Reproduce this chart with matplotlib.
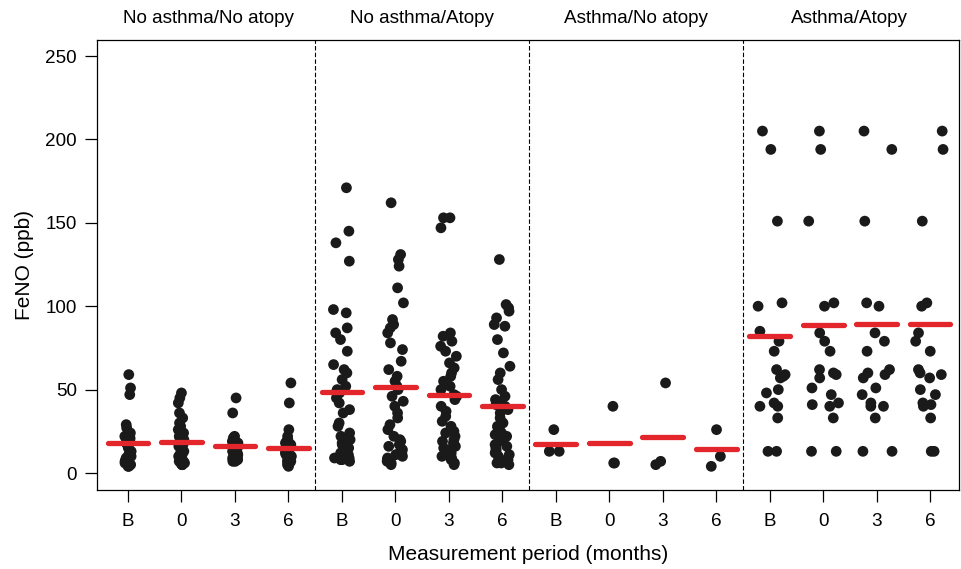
import matplotlib
matplotlib.use("Agg")
import matplotlib.pyplot as plt
import numpy as np

plt.rcParams['font.family'] = ['Liberation Sans', 'DejaVu Sans']

# panel titles and the measurement periods inside each panel
panels = ["No asthma/No atopy", "No asthma/Atopy", "Asthma/No atopy", "Asthma/Atopy"]
periods = ["B", "0", "3", "6"]

# FeNO values (ppb), one list per panel/period
noasthma_noatopy = [
    [59, 51, 47, 29, 27, 24, 22, 21, 20, 19, 19, 18, 18, 17, 16, 15, 13, 12, 11, 10,
     9, 8, 7, 7, 6, 6, 5, 5, 4, 4],
    [48, 45, 42, 36, 33, 30, 28, 26, 24, 22, 21, 20, 19, 19, 18, 17, 16, 15, 14, 13,
     12, 11, 10, 9, 8, 7, 7, 6, 6, 5, 5, 5],
    [45, 36, 22, 21, 20, 19, 18, 17, 16, 16, 15, 14, 13, 12, 11, 10, 10, 9, 8, 8, 7, 7],
    [54, 42, 26, 22, 20, 19, 18, 17, 16, 16, 15, 15, 14, 13, 12, 11, 10, 9, 8, 8,
     7, 7, 6, 6, 5, 4],
]
noasthma_atopy = [
    [171, 145, 138, 127, 98, 96, 87, 84, 80, 73, 65, 62, 60, 56, 52, 50, 49, 48, 45, 42,
     38, 36, 30, 28, 24, 22, 20, 18, 17, 15, 14, 13, 12, 11, 10, 9, 9, 8, 8, 7],
    [162, 131, 128, 124, 111, 102, 92, 89, 87, 84, 78, 74, 67, 62, 58, 55, 52, 50, 46, 43,
     40, 36, 33, 29, 26, 22, 20, 19, 17, 16, 14, 13, 12, 11, 10, 9, 8, 7, 6, 5],
    [153, 153, 147, 84, 82, 79, 76, 73, 70, 66, 63, 60, 58, 55, 52, 50, 47, 46, 44, 40,
     37, 34, 31, 28, 25, 24, 22, 20, 19, 18, 16, 15, 14, 12, 11, 10, 9, 8, 6, 5],
    [128, 101, 99, 97, 93, 89, 88, 80, 72, 64, 60, 56, 50, 46, 44, 42, 41, 40, 38, 36,
     33, 30, 28, 27, 26, 24, 23, 22, 20, 19, 17, 16, 15, 14, 13, 12, 11, 10, 9, 8,
     7, 6, 6, 5],
]
asthma_noatopy = [
    [26, 13, 13],
    [40, 6, 6],
    [54, 7, 5],
    [26, 10, 4],
]
asthma_atopy = [
    [205, 194, 151, 102, 100, 85, 79, 73, 62, 59, 58, 57, 50, 48, 42, 40, 40, 33, 13, 13],
    [205, 194, 151, 102, 100, 84, 79, 73, 62, 60, 59, 57, 51, 47, 42, 41, 40, 33, 13, 13],
    [205, 194, 151, 102, 100, 84, 79, 73, 62, 60, 59, 57, 51, 47, 42, 40, 40, 33, 13, 13],
    [205, 194, 151, 102, 100, 84, 79, 73, 62, 60, 59, 57, 50, 47, 42, 41, 40, 33, 13, 13],
]
groups = noasthma_noatopy + noasthma_atopy + asthma_noatopy + asthma_atopy

# group means (red bars)
group_means = [17.8, 18.6, 16.2, 15.2,
               48.7, 51.7, 46.8, 40.2,
               17.2, 17.8, 21.8, 14.2,
               82.3, 88.7, 89.1, 89.3]

# horizontal spread of the points in each panel
spread = [0.06, 0.16, 0.15, 0.29]

fig = plt.figure(figsize=(9.62, 5.69), dpi=100)
ax = fig.add_axes([0.1008, 0.1388, 0.8961, 0.7909])

rng = np.random.default_rng(7)
for i, vals in enumerate(groups):
    pos = i + 1
    vals = np.array(vals, dtype=float)
    w = spread[i // 4]
    jit = rng.uniform(-w, w, len(vals))
    ax.scatter(pos + jit, vals, s=60, color="#1a1a1a", edgecolors="none", zorder=3)
    ax.plot([pos - 0.38, pos + 0.38], [group_means[i]] * 2, color="#e3262b",
            lw=3.8, solid_capstyle="round", zorder=4)

# dashed separators between panels
for b in [4.5, 8.5, 12.5]:
    ax.axvline(b, color="black", lw=0.8, ls=(0, (4, 2)), zorder=1)

for k, title in enumerate(panels):
    ax.text(2.5 + 4 * k, 1.048, title, transform=ax.get_xaxis_transform(),
            ha="center", va="center", fontsize=13.6)

ax.set_xlim(0.42, 16.54)
ax.set_ylim(-10.2, 259.6)
ax.set_xticks(np.arange(1, 17))
ax.set_xticklabels(periods * 4)
ax.set_yticks([0, 50, 100, 150, 200, 250])
ax.tick_params(axis="both", direction="out", length=8.5, width=0.9,
               labelsize=13.6, pad=6)
ax.tick_params(axis="x", pad=8)
for sp in ax.spines.values():
    sp.set_linewidth(0.9)

ax.set_ylabel("FeNO (ppb)", fontsize=15, labelpad=8)
ax.set_xlabel("Measurement period (months)", fontsize=15, labelpad=11)

fig.savefig("out.png", dpi=100)
